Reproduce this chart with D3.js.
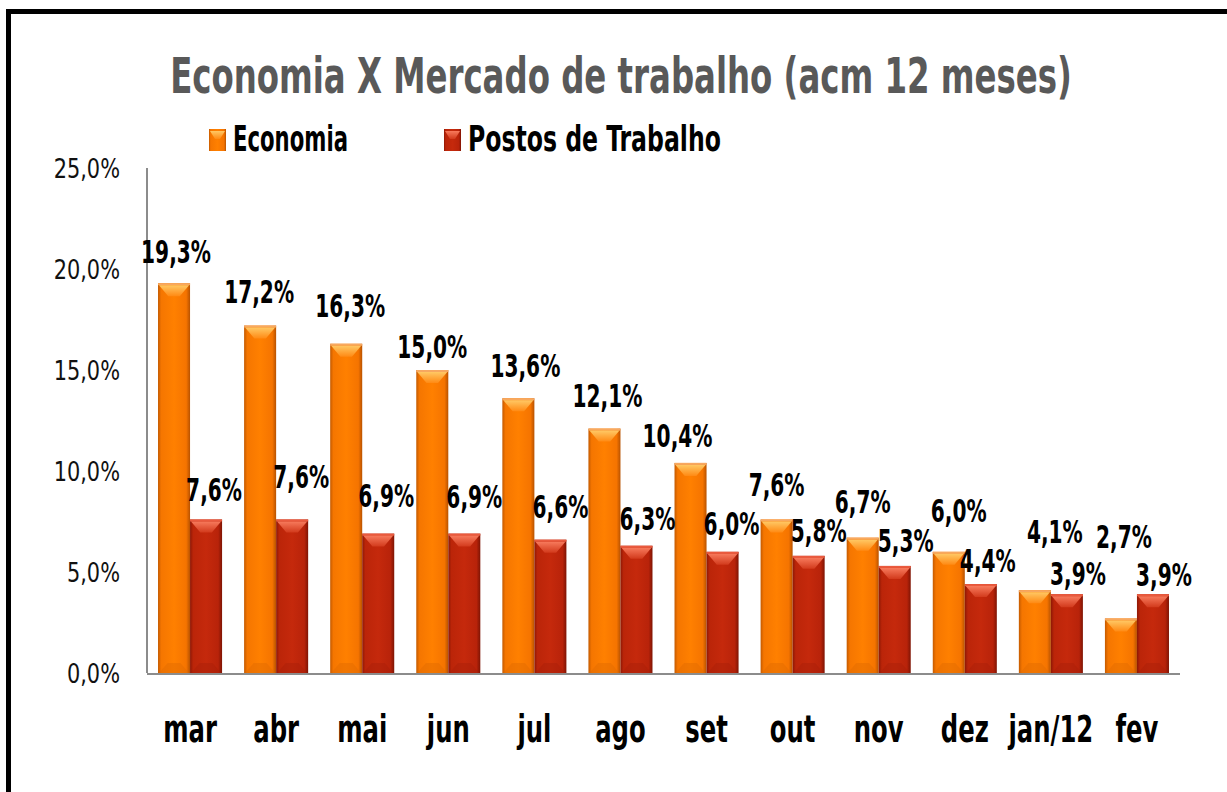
<html>
<head>
  <meta charset="utf-8">
  <script src="https://d3js.org/d3.v7.min.js"></script>
  <style>
    body { margin:0; background:#fff; }
    text { font-family: "DejaVu Sans Condensed", "DejaVu Sans", sans-serif; }
  </style>
  <script>
    // data
    var months   = ["mar","abr","mai","jun","jul","ago","set","out","nov","dez","jan/12","fev"];
    var economia = [19.3, 17.2, 16.3, 15.0, 13.6, 12.1, 10.4, 7.6, 6.7, 6.0, 4.1, 2.7];
    var postos   = [7.6, 7.6, 6.9, 6.9, 6.6, 6.3, 6.0, 5.8, 5.3, 4.4, 3.9, 3.9];
    var yTicks   = [0, 5, 10, 15, 20, 25];
    var seriesNames = ["Economia", "Postos de Trabalho"];

    // hand placed label nudges (gap above bar, horizontal shift)
    var ecoGap  = [20,23,27,12,21,22,16,23,25,30,47,70];
    var ecoDx   = [2,-1,4,0,7,3,-13,0,0,10,20,3];
    var posGap  = [18,31,27,26,22,16,17,14,14,12,9,8];
    var posDx   = [8,9,8,10,10,11,9,10,11,7,11,11];

    var fmt = v => d3.format(".1f")(v).replace(".", ",") + "%";

    // the original uses a narrow font: squeeze glyphs horizontally
    var at = (x, y, k) => "translate(" + x + "," + y + ") scale(" + k + ",1)";

    function makeChart() {
        var svg = d3.select("#chart");
        var defs = svg.append("defs");

        function hgrad(id, stops) {
            var g = defs.append("linearGradient").attr("id", id)
                .attr("x1", "0").attr("x2", "1").attr("y1", "0").attr("y2", "0");
            stops.forEach(s => g.append("stop").attr("offset", s[0]).attr("stop-color", s[1]));
        }
        function vgrad(id, stops) {
            var g = defs.append("linearGradient").attr("id", id)
                .attr("x1", "0").attr("x2", "0").attr("y1", "0").attr("y2", "1");
            stops.forEach(s => g.append("stop").attr("offset", s[0]).attr("stop-color", s[1]));
        }
        hgrad("gEco", [[0,"#c45a00"],[0.1,"#f57600"],[0.5,"#ff8000"],[0.88,"#f57400"],[1,"#b85200"]]);
        hgrad("gPos", [[0,"#8e1805"],[0.1,"#bb2509"],[0.5,"#c5290c"],[0.88,"#b8230a"],[1,"#7e1404"]]);
        vgrad("tEco", [[0,"#ffc864"],[1,"#ff8a14"]]);
        vgrad("tPos", [[0,"#f77a5c"],[1,"#d23a1c"]]);

        var fills = [["url(#gEco)","url(#tEco)","#f7a860","#e06a00"], ["url(#gPos)","url(#tPos)","#ea5a3e","#a82008"]];

        var x = d3.scaleBand().domain(months).range([147, 1180]).paddingInner(0.256).paddingOuter(0.128);
        var xs = d3.scaleBand().domain([0,1]).range([0, x.bandwidth()]);
        var y = d3.scaleLinear().domain([0, 25]).range([673, 168]);

        // frame
        svg.append("rect").attr("x", 8.5).attr("y", 11.5).attr("width", 1400).attr("height", 1000)
            .attr("fill", "none").attr("stroke", "#000").attr("stroke-width", 5);

        // title
        var title = svg.append("text").attr("text-anchor", "middle")
            .attr("font-size", 49).attr("font-weight", "bold").attr("fill", "#595959")
            .text("Economia X Mercado de trabalho (acm 12 meses)");
        var tw = title.node().getComputedTextLength();
        title.attr("transform", at(621, 93, 902 / tw));

        // legend
        var legX = [209, 444], legW = [115, 253];
        seriesNames.forEach(function(name, i) {
            var lg = svg.append("g");
            lg.append("rect").attr("x", legX[i]).attr("y", 129).attr("width", 17).attr("height", 22)
                .attr("fill", fills[i][0]);
            lg.append("polygon")
                .attr("points", [[legX[i]+1,131],[legX[i]+16,131],[legX[i]+11,139],[legX[i]+6,139]].join(" "))
                .attr("fill", fills[i][1]);
            var t = lg.append("text")
                .attr("font-size", 35).attr("font-weight", "bold").attr("fill", "#000")
                .text(name);
            t.attr("transform", at(legX[i]+24, 151, legW[i] / t.node().getComputedTextLength()));
        });

        // y axis
        svg.append("line").attr("x1", 147).attr("x2", 147).attr("y1", y(25)).attr("y2", y(0))
            .attr("stroke", "#8c8c8c").attr("stroke-width", 2);
        svg.append("g").selectAll("text").data(yTicks).enter().append("text")
            .attr("transform", d => at(120, y(d), 0.86))
            .attr("dy", "0.36em").attr("text-anchor", "end")
            .attr("font-size", 27).attr("fill", "#111")
            .text(d => d3.format(".1f")(d).replace(".", ",") + "%");

        // bars
        var series = [economia, postos];
        series.forEach(function(vals, s) {
            var g = svg.append("g");
            var bars = g.selectAll("g").data(vals).enter().append("g")
                .attr("transform", (d, i) => "translate(" + (x(months[i]) + xs(s)) + ",0)");
            var w = xs.bandwidth();
            bars.append("rect").attr("x", 0).attr("y", d => y(d)).attr("width", w)
                .attr("height", d => y(0) - y(d)).attr("fill", fills[s][0]);
            // top bevel
            bars.append("rect").attr("x", 0).attr("y", d => y(d)).attr("width", w).attr("height", 2)
                .attr("fill", fills[s][2]);
            bars.append("polygon")
                .attr("points", d => [[1, y(d)+2],[w-1, y(d)+2],[w*0.68, y(d)+13],[w*0.32, y(d)+13]].join(" "))
                .attr("fill", fills[s][1]);
            // bottom bevel
            bars.append("polygon")
                .attr("points", d => [[w*0.3, y(0)-10],[w*0.7, y(0)-10],[w-1, y(0)],[1, y(0)]].join(" "))
                .attr("fill", fills[s][3]).attr("opacity", 0.45);
        });

        // x axis
        svg.append("line").attr("x1", 147).attr("x2", 1180).attr("y1", y(0)+1).attr("y2", y(0)+1)
            .attr("stroke", "#8c8c8c").attr("stroke-width", 2);
        svg.append("g").selectAll("text").data(months).enter().append("text")
            .attr("transform", d => at(x(d) + x.bandwidth()/2, 742, 0.73))
            .attr("text-anchor", "middle")
            .attr("font-size", 37).attr("font-weight", "bold").attr("fill", "#000")
            .text(d => d);

        // value labels
        var gaps = [ecoGap, posGap], dxs = [ecoDx, posDx];
        series.forEach(function(vals, s) {
            svg.append("g").selectAll("text").data(vals).enter().append("text")
                .attr("transform", (d, i) => at(x(months[i]) + xs(s) + xs.bandwidth()/2 + dxs[s][i], y(d) - gaps[s][i], 0.70))
                .attr("text-anchor", "middle").attr("font-size", 32).attr("font-weight", "bold")
                .attr("fill", "#000")
                .text(d => fmt(d));
        });
    }
  </script>
</head>

<body onload="makeChart()">
    <svg id="chart" width="1227" height="792"></svg>
</body>
</html>
